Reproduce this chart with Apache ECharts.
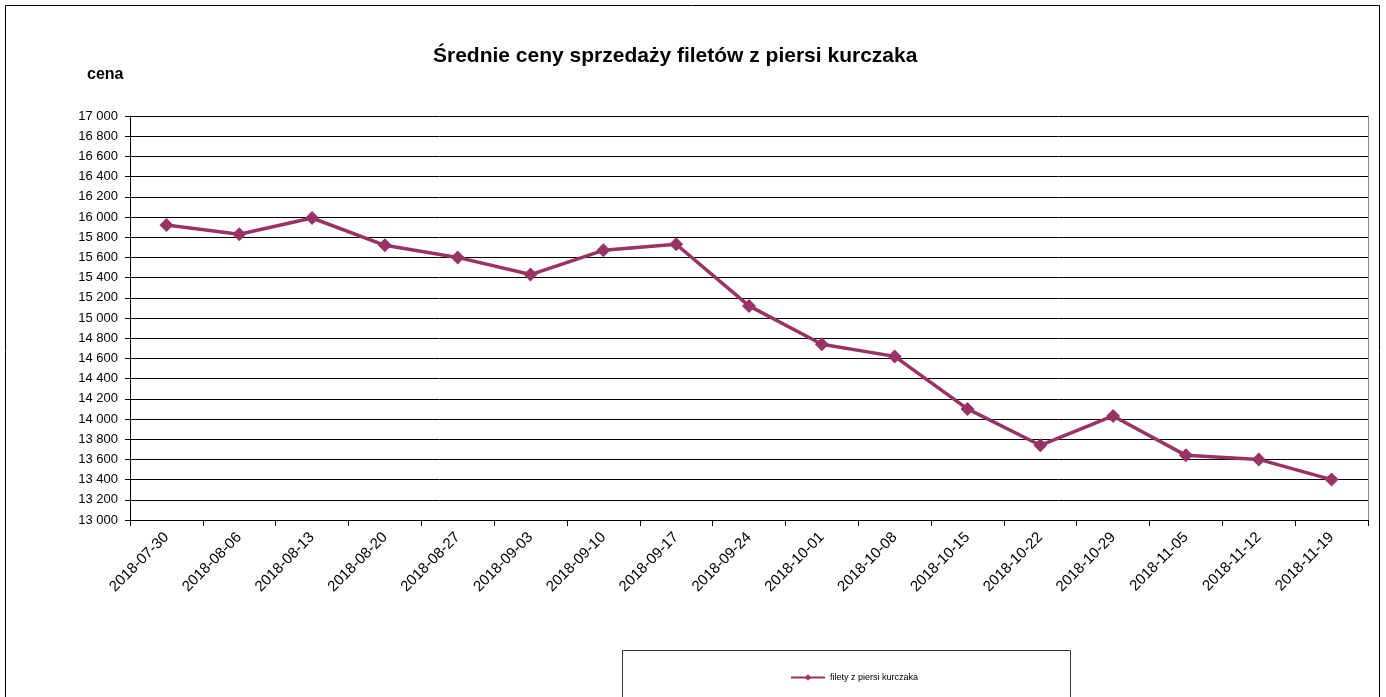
<!DOCTYPE html>
<html>
<head>
<meta charset="utf-8">
<script src="https://cdn.jsdelivr.net/npm/echarts@6/dist/echarts.min.js"></script>
<style>html,body{margin:0;padding:0;background:#fff}#c{width:1386px;height:697px}</style>
</head>
<body>
<div id="c"></div>
<script>
const categories = ['2018-07-30','2018-08-06','2018-08-13','2018-08-20','2018-08-27','2018-09-03','2018-09-10','2018-09-17','2018-09-24','2018-10-01','2018-10-08','2018-10-15','2018-10-22','2018-10-29','2018-11-05','2018-11-12','2018-11-19'];
const values = [15920,15830,15990,15720,15600,15430,15670,15730,15120,14740,14620,14100,13740,14030,13640,13600,13400];
const seriesName = 'filety z piersi kurczaka';
const titleText = 'Średnie ceny sprzedaży filetów z piersi kurczaka';
const yAxisName = 'cena';

const chart = echarts.init(document.getElementById('c'));
const font = '"Liberation Sans", Arial, sans-serif';
chart.setOption({
  animation: false,
  title: {
    text: titleText, left: 428, top: 41,
    textStyle: {fontFamily: font, fontSize: 21, fontWeight: 'bold', color: '#000'}
  },
  graphic: [
    {type: 'rect', shape: {x: 5.5, y: 5.5, width: 1374, height: 720}, style: {fill: 'none', stroke: '#000', lineWidth: 1}, z: -1},
    {type: 'rect', shape: {x: 622.5, y: 650.5, width: 448, height: 60}, style: {fill: 'none', stroke: '#333', lineWidth: 1}, z: -1},
    {type: 'text', left: 87, top: 67, style: {text: yAxisName, font: 'bold 16px ' + font, fill: '#000'}}
  ],
  legend: {
    data: [seriesName], left: 785, top: 668,
    itemWidth: 34, itemHeight: 8, itemGap: 4,
    textStyle: {fontFamily: font, fontSize: 9, color: '#000'}
  },
  grid: {left: 130, right: 18, top: 116, bottom: 177, containLabel: false, show: false},
  xAxis: {
    type: 'category', data: categories, boundaryGap: true,
    axisLine: {lineStyle: {color: '#000', width: 1}},
    axisTick: {show: true, alignWithLabel: false, length: 6, lineStyle: {color: '#000'}},
    axisLabel: {interval: 0, rotate: 45, fontFamily: font, fontSize: 15, color: '#000', margin: 15},
    splitLine: {show: false}
  },
  yAxis: [{
    type: 'value', min: 13000, max: 17000, interval: 200,
    axisLine: {show: true, lineStyle: {color: '#000', width: 1}},
    axisTick: {show: true, length: 5, lineStyle: {color: '#000'}},
    axisLabel: {fontFamily: font, fontSize: 13, color: '#000', margin: 12,
      formatter: v => String(v).replace(/\B(?=(\d{3})+(?!\d))/g, ' ')},
    splitLine: {show: true, lineStyle: {color: '#000', width: 1}}
  }, {
    type: 'value', position: 'right', min: 13000, max: 17000, interval: 200,
    axisLine: {show: true, lineStyle: {color: '#888', width: 1}},
    axisTick: {show: false}, axisLabel: {show: false}, splitLine: {show: false}
  }],
  series: [{
    name: seriesName, type: 'line', data: values, yAxisIndex: 0,
    symbol: 'diamond', symbolSize: 14,
    lineStyle: {color: '#993366', width: 3.5},
    itemStyle: {color: '#993366'}
  }]
});
</script>
</body>
</html>
